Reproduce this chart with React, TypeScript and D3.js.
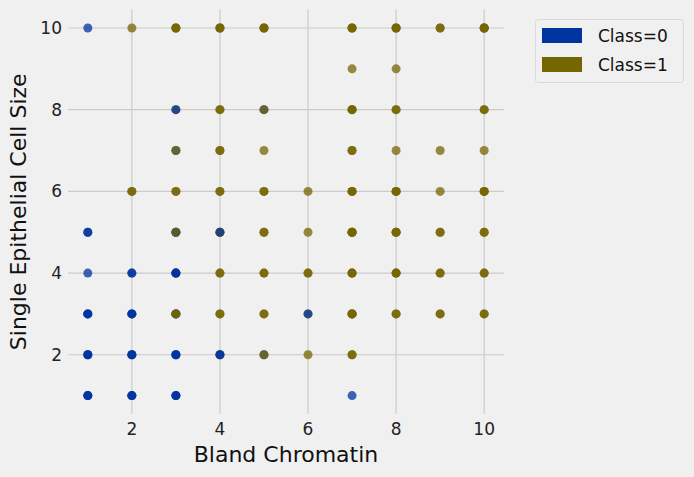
import React from 'react';
import * as d3 from 'd3';

// Locations (Bland Chromatin, Single Epithelial Cell Size) and the classes
// of the samples stacked there, in drawing order ("0" = benign, "1" = malignant)
const locX = [
  1, 2, 3, 4, 5, 7, 8, 9, 10,
  7, 8,
  3, 4, 5, 7, 8, 10,
  3, 4, 5, 7, 8, 9, 10,
  2, 3, 4, 5, 6, 7, 8, 9, 10,
  1, 3, 4, 5, 6, 7, 8, 9, 10,
  1, 2, 3, 4, 5, 6, 7, 8, 9, 10,
  1, 2, 3, 4, 5, 6, 7, 8, 9, 10,
  1, 2, 3, 4, 5, 6, 7,
  1, 2, 3, 7,
];
const locY = [
  10, 10, 10, 10, 10, 10, 10, 10, 10,
  9, 9,
  8, 8, 8, 8, 8, 8,
  7, 7, 7, 7, 7, 7, 7,
  6, 6, 6, 6, 6, 6, 6, 6, 6,
  5, 5, 5, 5, 5, 5, 5, 5, 5,
  4, 4, 4, 4, 4, 4, 4, 4, 4, 4,
  3, 3, 3, 3, 3, 3, 3, 3, 3, 3,
  2, 2, 2, 2, 2, 2, 2,
  1, 1, 1, 1,
];
const locClasses = [
  '0', '1', '111', '111', '111', '111', '111', '11', '1111',
  '1', '1',
  '10', '11', '01', '111', '11', '11',
  '01', '11', '1', '11', '1', '1', '1',
  '11', '11', '11', '11', '1', '111', '111', '1', '111',
  '00', '001', '110', '11', '1', '1111', '111', '11', '11',
  '0', '00', '1000', '11', '11', '11', '111', '111', '11', '11',
  '000', '000', '0011', '11', '11', '10', '1111', '11', '11', '11',
  '000', '000', '000', '100', '01', '1', '11',
  '000', '000', '000', '0',
];

const classLabels = ['Class=0', 'Class=1'];
const classColors = ['#0033a0', '#746600'];
const xTicks = [2, 4, 6, 8, 10];
const yTicks = [2, 4, 6, 8, 10];

const W = 694;
const H = 477;
const FONT = 'DejaVu Sans, sans-serif';

const App: React.FC = () => {
  const left = 68, right = 504, top = 9.6, bottom = 414;
  const x = d3.scaleLinear().domain([0.55, 10.45]).range([left, right]);
  const y = d3.scaleLinear().domain([0.55, 10.45]).range([bottom, top]);

  const dots: { cx: number; cy: number; c: number; k: string }[] = [];
  locX.forEach((lx, i) => {
    locClasses[i].split('').forEach((ch, j) => {
      dots.push({ cx: x(lx), cy: y(locY[i]), c: +ch, k: `${i}-${j}` });
    });
  });

  return (
    <svg width={W} height={H} style={{ position: 'absolute', left: 0, top: 0, background: '#f0f0f0' }} fontFamily={FONT}>
      <rect width={W} height={H} fill="#f0f0f0" />

      {/* grid */}
      {xTicks.map(t => (
        <line key={`gx${t}`} x1={x(t)} x2={x(t)} y1={top} y2={bottom} stroke="#cbcbcb" strokeWidth={1.2} />
      ))}
      {yTicks.map(t => (
        <line key={`gy${t}`} x1={left} x2={right} y1={y(t)} y2={y(t)} stroke="#cbcbcb" strokeWidth={1.2} />
      ))}

      {/* points */}
      {dots.map(d => (
        <circle key={d.k} cx={d.cx} cy={d.cy} r={4.5} fill={classColors[d.c]} fillOpacity={0.75} />
      ))}

      {/* tick labels */}
      {xTicks.map(t => (
        <text key={`tx${t}`} x={x(t)} y={435} textAnchor="middle" fontSize={17} fill="#222">{t}</text>
      ))}
      {yTicks.map(t => (
        <text key={`ty${t}`} x={62} y={y(t)} dy="0.36em" textAnchor="end" fontSize={17} fill="#222">{t}</text>
      ))}

      {/* axis labels */}
      <text x={(left + right) / 2} y={462} textAnchor="middle" fontSize={22} fill="#111">Bland Chromatin</text>
      <text transform={`translate(26,${(top + bottom) / 2}) rotate(-90)`} textAnchor="middle" fontSize={22} fill="#111">
        Single Epithelial Cell Size
      </text>

      {/* legend */}
      <rect x={535.5} y={19.5} width={148} height={63} rx={3} fill="#f0f0f0" stroke="#d8d8d8" />
      {classLabels.map((lab, i) => (
        <g key={lab} transform={`translate(0,${i * 29})`}>
          <rect x={542} y={28} width={40} height={15} fill={classColors[i]} />
          <text x={598} y={42} fontSize={17} fill="#111">{lab}</text>
        </g>
      ))}
    </svg>
  );
};

export default App;
